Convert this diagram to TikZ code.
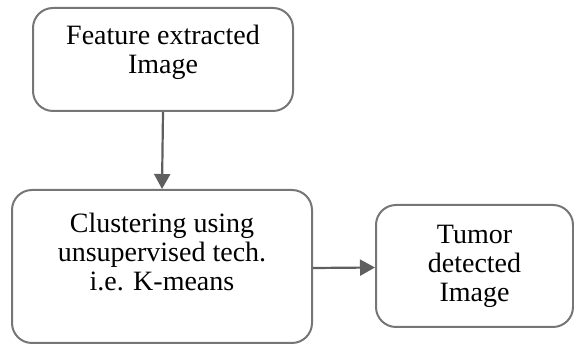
\documentclass[tikz,border=0pt]{standalone}
\usepackage{fontspec}
\setmainfont{Liberation Serif}
\usetikzlibrary{arrows.meta, positioning, calc}
\usepackage{xcolor}
\definecolor{boxgray}{RGB}{118,118,118}
\definecolor{arrgray}{RGB}{95,95,95}

\begin{document}
\begin{tikzpicture}[x=1pt, y=1pt,
        box/.style={draw=boxgray, line width=2pt, rounded corners=20pt},
        txt/.style={align=center, inner sep=0pt, font=\fontsize{28}{29}\selectfont},
        arr/.style={draw=arrgray, line width=2.2pt, -{Triangle[length=15pt, width=16pt]}}
      ]
      \useasboundingbox (0,0) rectangle (574,345);
      \node[box, minimum width=260pt, minimum height=103pt] (feat)  at (163,285.5) {};
      \node[box, minimum width=300pt, minimum height=153pt] (clust) at (162,78.5)  {};
      \node[box, minimum width=197pt, minimum height=122pt] (tumor) at (474.5,79)  {};
      \node[txt] (featT)  at ([yshift=7pt]feat.center)   {Feature extracted\\Image};
      \node[txt] (clustT) at ([yshift=15pt]clust.center) {Clustering using\\unsupervised tech.\\i.e. K-means};
      \node[txt] (tumorT) at (tumor.center)              {Tumor\\detected\\Image};
      \draw[arr] (feat.south) -- (clust.north);
      \draw[arr] ([yshift=-1.5pt]clust.east) -- ([yshift=-1.5pt]tumor.west);
    \end{tikzpicture}
\end{document}
